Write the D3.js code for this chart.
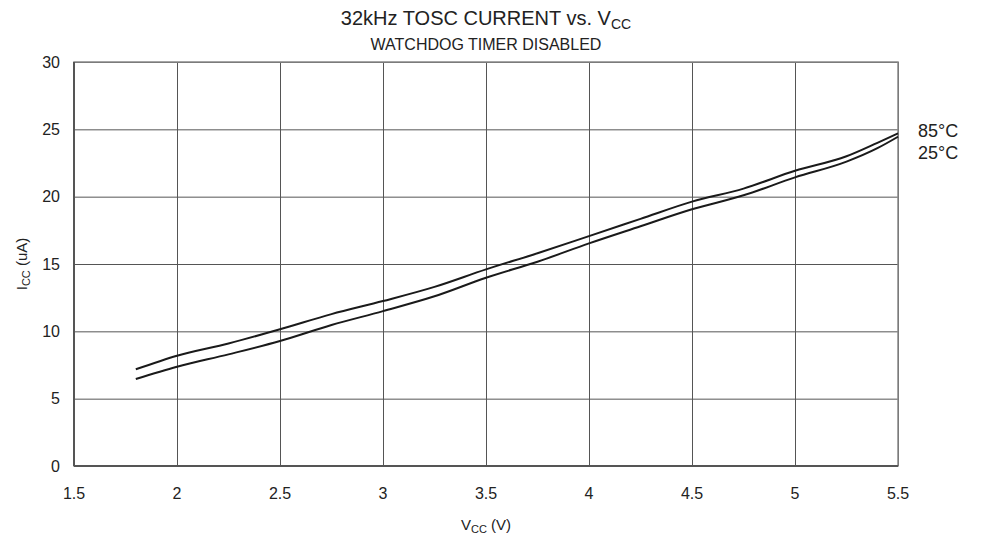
<!DOCTYPE html>
<html>
<head>
<script src="https://cdn.jsdelivr.net/npm/d3@7"></script>
<style>
  body { margin: 0; background: #fff; }
  text { font-family: "Liberation Sans", Arial, sans-serif; fill: #222; }
</style>
</head>
<body>
<svg width="985" height="544"></svg>
<script>
// supply voltage (V)
var vcc = [1.8, 2, 2.25, 2.5, 2.75, 3, 3.25, 3.5, 3.75, 4, 4.25, 4.5, 4.75, 5, 5.25, 5.4, 5.5];
// current (uA) per temperature
var icc85 = [7.18, 8.19, 9.1, 10.15, 11.28, 12.25, 13.3, 14.6, 15.8, 17.07, 18.35, 19.63, 20.6, 21.92, 23.0, 24.0, 24.7];
var icc25 = [6.46, 7.37, 8.29, 9.28, 10.47, 11.5, 12.6, 13.98, 15.17, 16.53, 17.8, 19.06, 20.1, 21.43, 22.6, 23.6, 24.45];
var seriesNames = ["85°C", "25°C"];
var xTicks = [1.5, 2, 2.5, 3, 3.5, 4, 4.5, 5, 5.5];
var yTicks = [0, 5, 10, 15, 20, 25, 30];

var svg = d3.select("svg"),
    margin = {top: 62, right: 87, bottom: 78, left: 74},
    width = +svg.attr("width") - margin.left - margin.right,
    height = +svg.attr("height") - margin.top - margin.bottom;

var x = d3.scaleLinear().domain([1.5, 5.5]).range([0, width]),
    y = d3.scaleLinear().domain([0, 30]).range([height, 0]);

var g = svg.append("g")
    .attr("transform", "translate(" + margin.left + "," + margin.top + ")");

/** grid **/
g.append("g")
  .call(d3.axisBottom(x).tickValues(xTicks).tickSize(-height).tickFormat(""))
  .attr("transform", "translate(0," + height + ")")
  .call(function(a) {
    a.select(".domain").remove();
    a.selectAll("line").attr("stroke", "#555").attr("stroke-width", 1);
  });

g.append("g")
  .call(d3.axisLeft(y).tickValues(yTicks).tickSize(-width).tickFormat(""))
  .call(function(a) {
    a.select(".domain").remove();
    a.selectAll("line").attr("stroke", "#555").attr("stroke-width", 1);
  });

/** frame **/
g.append("rect")
  .attr("width", width).attr("height", height)
  .attr("fill", "none").attr("stroke", "#888").attr("stroke-width", 1.5);
g.append("line").attr("x1", 0).attr("x2", 0).attr("y1", 0).attr("y2", height)
  .attr("stroke", "#555").attr("stroke-width", 2);
g.append("line").attr("x1", 0).attr("x2", width).attr("y1", height).attr("y2", height)
  .attr("stroke", "#555").attr("stroke-width", 2);

/** tick labels **/
g.append("g").selectAll("text")
  .data(xTicks).enter().append("text")
  .attr("x", function(d) { return x(d); })
  .attr("y", height + 33)
  .attr("text-anchor", "middle")
  .attr("font-size", "16px")
  .text(function(d) { return d; });

g.append("g").selectAll("text")
  .data(yTicks).enter().append("text")
  .attr("x", -14)
  .attr("y", function(d) { return y(d) + 5.5; })
  .attr("text-anchor", "end")
  .attr("font-size", "16px")
  .text(function(d) { return d; });

/** curves **/
var line = d3.line()
  .x(function(d) { return x(d[0]); })
  .y(function(d) { return y(d[1]); })
  .curve(d3.curveMonotoneX);

[icc85, icc25].forEach(function(s) {
  g.append("path")
    .datum(vcc.map(function(v, i) { return [v, s[i]]; }))
    .attr("fill", "none")
    .attr("stroke", "#1a1a1a")
    .attr("stroke-width", 2)
    .attr("d", line);
});

/** series labels **/
g.selectAll(".lbl")
  .data(seriesNames).enter().append("text")
  .attr("class", "lbl")
  .attr("x", width + 20)
  .attr("y", function(d, i) { return 75 + i * 22; })
  .attr("font-size", "18px")
  .text(function(d) { return d; });

/** titles **/
var t = svg.append("text")
  .attr("x", margin.left + width / 2)
  .attr("y", 25)
  .attr("text-anchor", "middle")
  .attr("font-size", "20px");
t.append("tspan").text("32kHz TOSC CURRENT vs. V");
t.append("tspan").attr("font-size", "14px").attr("dy", 4).text("CC");

svg.append("text")
  .attr("x", margin.left + width / 2)
  .attr("y", 50)
  .attr("text-anchor", "middle")
  .attr("font-size", "16px")
  .text("WATCHDOG TIMER DISABLED");

var xt = svg.append("text")
  .attr("x", margin.left + width / 2)
  .attr("y", 530)
  .attr("text-anchor", "middle")
  .attr("font-size", "15px");
xt.append("tspan").text("V");
xt.append("tspan").attr("font-size", "11px").attr("dy", 3).text("CC");
xt.append("tspan").attr("dy", -3).text(" (V)");

var yt = svg.append("text")
  .attr("transform", "translate(27," + (margin.top + height / 2) + ") rotate(-90)")
  .attr("text-anchor", "middle")
  .attr("font-size", "15px");
yt.append("tspan").text("I");
yt.append("tspan").attr("font-size", "11px").attr("dy", 3).text("CC");
yt.append("tspan").attr("dy", -3).text(" (uA)");
</script>
</body>
</html>
